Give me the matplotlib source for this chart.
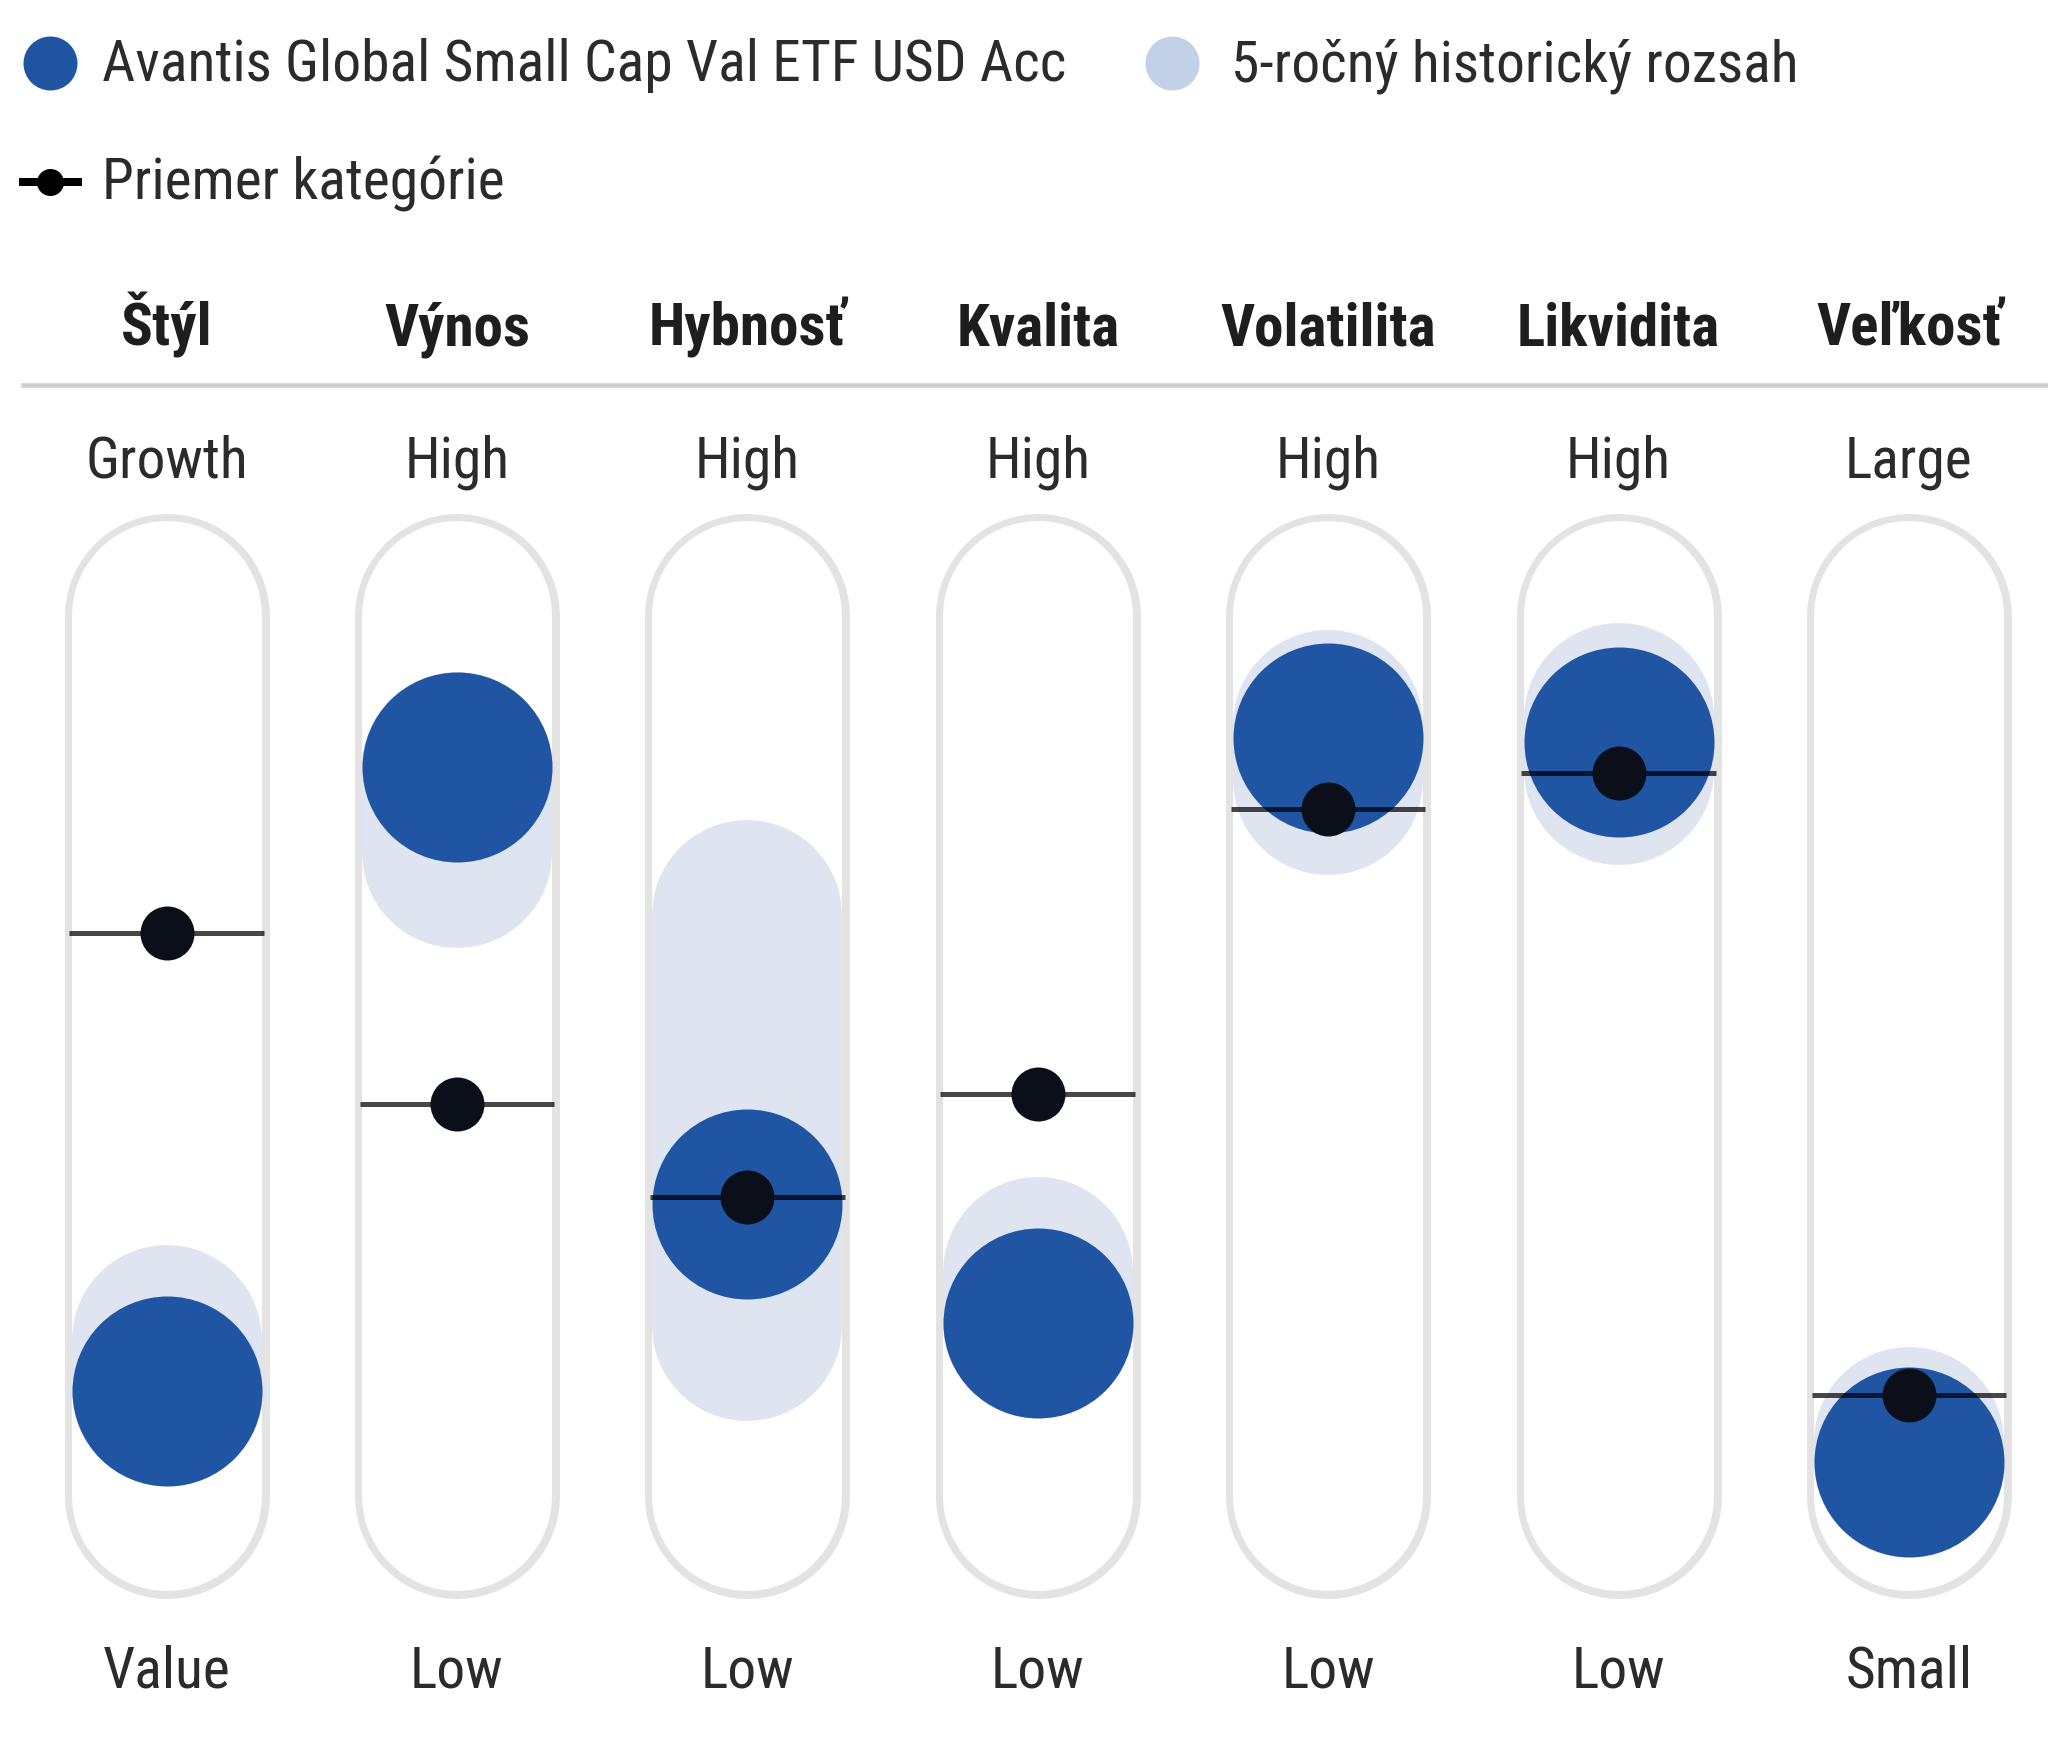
import matplotlib
matplotlib.use("Agg")
import matplotlib.pyplot as plt

# ---------------- data ----------------
categories = ["Štýl", "Výnos", "Hybnosť", "Kvalita", "Volatilita", "Likvidita", "Veľkosť"]
top_labels = ["Growth", "High", "High", "High", "High", "High", "Large"]
bottom_labels = ["Value", "Low", "Low", "Low", "Low", "Low", "Small"]
fund_score = [11.9, 82.8, 33.2, 19.7, 86.1, 85.7, 3.9]
range_low = [11.9, 73.1, 19.3, 19.7, 81.4, 82.5, 3.9]
range_high = [17.7, 82.8, 66.0, 25.5, 87.6, 88.4, 6.1]
category_avg = [64.0, 44.6, 34.0, 45.7, 78.1, 82.2, 11.5]
legend_labels = ["Avantis Global Small Cap Val ETF USD Acc", "5-ročný historický rozsah", "Priemer kategórie"]

# ---------------- style ----------------
W, H, DPI = 2048, 1747, 100
PT = 72.0 / DPI  # points per pixel
BLUE = "#1f55a3"
LIGHT = "#dfe5f0"
LEGEND_LIGHT = "#c3d1e8"
PILL = "#e3e3e3"
DOT = "#0b0f19"
TXT = "#2b2b2b"
FAM = ["Roboto Condensed", "Roboto", "DejaVu Sans"]
FS = 40

fig = plt.figure(figsize=(W / DPI, H / DPI), dpi=DPI)
fig.patch.set_facecolor("white")
ax = fig.add_axes([0, 0, 1, 1])
col0, spacing = 166.5, 290.4          # pixel layout of columns
y0_px, k = 1496.0, 8.8                 # score 0 at y0_px from top, k px per score unit
ax.set_xlim(-col0 / spacing, (W - col0) / spacing)
ax.set_ylim(-(H - y0_px) / k, y0_px / k)
ax.axis("off")

regular_texts, bold_texts = [], []

def ftext(x, y, s, bold=False, **kw):
    t = fig.text(x / W, 1 - y / H, s, family=FAM, fontstretch="condensed",
                 fontweight="bold" if bold else "normal", fontsize=FS, va="baseline", **kw)
    (bold_texts if bold else regular_texts).append(t)
    return t

n = len(categories)
head_ref = None
for i in range(n):
    # pill outline (stadium) via round-capped lines
    ax.plot([i, i], [0, 100], color=PILL, lw=205 * PT, solid_capstyle="round", zorder=1)
    ax.plot([i, i], [0, 100], color="white", lw=190 * PT, solid_capstyle="round", zorder=2)
    # 5-year range
    ax.plot([i, i], [range_low[i], range_high[i]], color=LIGHT, lw=190 * PT,
            solid_capstyle="round", zorder=3)
    # fund position
    ax.plot([i], [fund_score[i]], "o", ms=190 * PT, color=BLUE, mec="none", zorder=4)
    # category average
    ax.plot([i - 0.335, i + 0.335], [category_avg[i]] * 2, color="black", alpha=0.72,
            lw=5 * PT, solid_capstyle="butt", zorder=5)
    ax.plot([i], [category_avg[i]], "o", ms=54 * PT, color=DOT, mec="none", zorder=6)

    cx = col0 + i * spacing
    t = ftext(cx, 346, categories[i], bold=True, ha="center", color="#1e1e1e")
    if categories[i] == "Volatilita":
        head_ref = t
    ftext(cx, 478, top_labels[i], ha="center", color=TXT)
    ftext(cx, 1688, bottom_labels[i], ha="center", color=TXT)

# separator line under headers
fig.add_artist(plt.Line2D([23 / W, 1], [1 - 385 / H] * 2, color="#cfcfcf", lw=4.5 * PT))

# legend
fig.add_artist(plt.Line2D([50 / W], [1 - 63 / H], marker="o", ms=54 * PT, color=BLUE, mec="none"))
leg_ref = ftext(102, 81, legend_labels[0], ha="left", color=TXT)
fig.add_artist(plt.Line2D([1172 / W], [1 - 63 / H], marker="o", ms=54 * PT, color=LEGEND_LIGHT, mec="none"))
ftext(1231, 81, legend_labels[1], ha="left", color=TXT)
fig.add_artist(plt.Line2D([23 / W, 78 / W], [1 - 182 / H] * 2, color="black", lw=8 * PT))
fig.add_artist(plt.Line2D([50 / W], [1 - 182 / H], marker="o", ms=27 * PT, color="black", mec="none"))
ftext(102, 200, legend_labels[2], ha="left", color=TXT)

# fit text size to the reference text widths
fig.canvas.draw()
r = fig.canvas.get_renderer()
f_reg = 962.0 / leg_ref.get_window_extent(r).width
f_bold = 215.0 / head_ref.get_window_extent(r).width
for t in regular_texts:
    t.set_fontsize(FS * f_reg)
for t in bold_texts:
    t.set_fontsize(FS * f_bold)

fig.savefig("out.png", dpi=DPI, facecolor="white")
